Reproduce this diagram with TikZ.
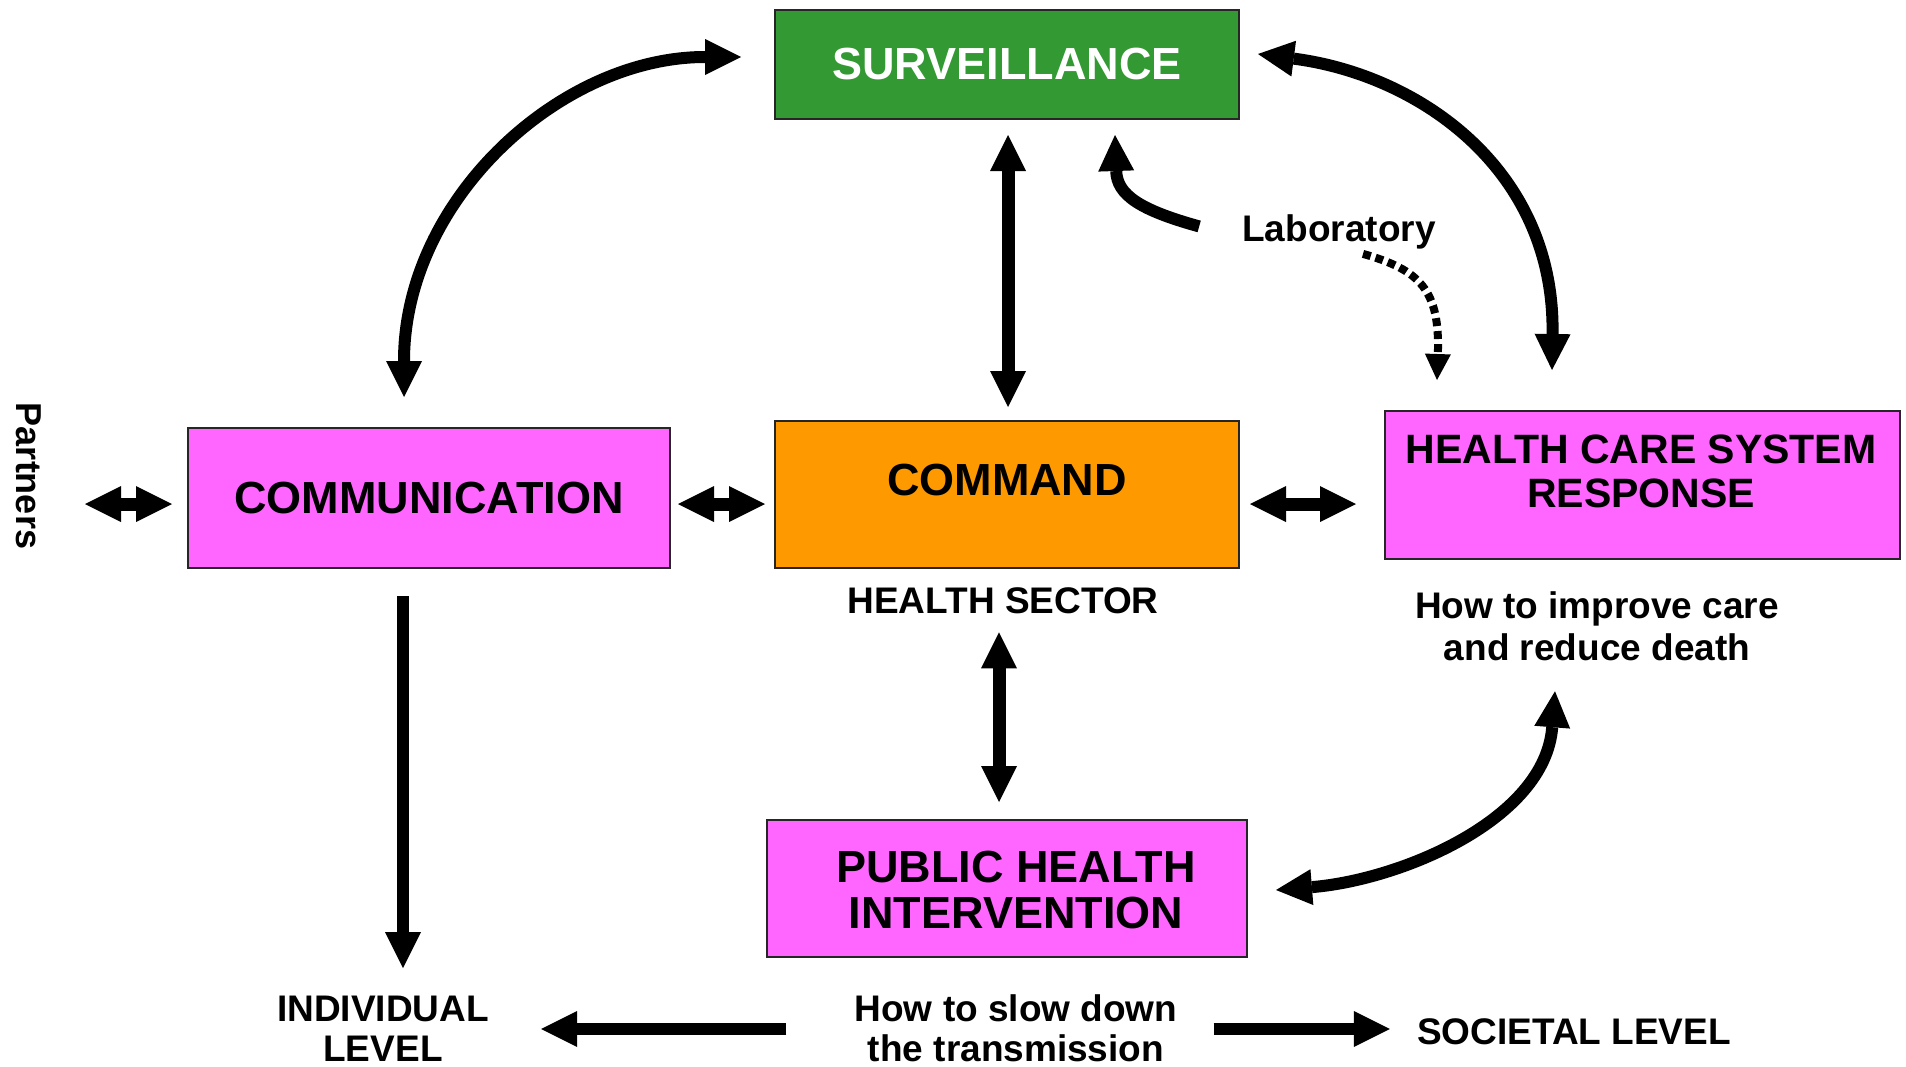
\documentclass[tikz,border=0pt]{standalone}
\usepackage{fontspec}
\setmainfont{Liberation Sans}
\usetikzlibrary{arrows.meta,calc}
\definecolor{survgreen}{HTML}{339933}
\definecolor{cmdorange}{HTML}{FF9900}
\definecolor{magbox}{HTML}{FF66FF}
\begin{document}
\begin{tikzpicture}[x=1pt,y=-1pt,
  box/.style={draw=black!85,line width=2pt,inner sep=0pt},
  big/.style={font=\bfseries\fontsize{45}{46}\selectfont,align=center,inner sep=0pt},
  mid/.style={font=\bfseries\fontsize{41}{44}\selectfont,align=center,inner sep=0pt},
  small/.style={font=\bfseries\fontsize{37}{40}\selectfont,align=center,inner sep=0pt},
  tipb/.tip={Triangle[width=36pt,length=36pt,line width=0pt]},
  tips/.tip={Triangle[width=26pt,length=26pt,line width=0pt]},
  arr/.style={line width=12pt,-tipb},
  dbl/.style={line width=13pt,tipb-tipb},
  dotarr/.style={line width=8pt,dash pattern=on 8pt off 5pt,-tips}]
\useasboundingbox[fill=white] (0,0) rectangle (1906,1066);

% boxes
\node[box,fill=survgreen,minimum width=464pt,minimum height=109pt,big,text=white] (surv) at (1007,64) {SURVEILLANCE};
\node[box,fill=cmdorange,minimum width=464pt,minimum height=147pt] (cmd) at (1007,494.5) {};
\node[big] (cmdlabel) at (1007,480) {COMMAND};
\node[box,fill=magbox,minimum width=482pt,minimum height=140pt,big] (comm) at (429,498) {COMMUNICATION};
\node[box,fill=magbox,minimum width=515pt,minimum height=148pt] (hcs) at (1642.5,485) {};
\node[mid] (hcslabel) at (1641,471) {HEALTH CARE SYSTEM\\RESPONSE};
\node[box,fill=magbox,minimum width=480pt,minimum height=137pt] (phi) at (1007,888.5) {};
\node[big] (philabel) at (1016,890) {PUBLIC HEALTH\\INTERVENTION};

% texts
\node[small,font=\bfseries\fontsize{36}{40}\selectfont,rotate=-90] (partners) at (29,476) {Partners};
\node[small,anchor=base] (lab) at (1339,241) {Laboratory};
\node[small] (hsector) at (1003,601) {HEALTH SECTOR};
\node[small,font=\bfseries\fontsize{37}{42}\selectfont] (improve) at (1597,626) {How to improve care\\and reduce death};
\node[small] (indiv) at (383,1029) {INDIVIDUAL\\LEVEL};
\node[small] (slow) at (1016,1028) {How to slow down\\the transmission};
\node[small] (societal) at (1574,1032) {SOCIETAL LEVEL};

% straight connectors
\draw[dbl] ($(partners)+(56,28)$) -- ($(comm.west)+(-15,6)$);
\draw[dbl] ($(comm.east)+(7,6)$) -- ($(cmd.west)+(-9,9.5)$);
\draw[dbl] ($(cmd.east)+(10,9.5)$) -- ($(hcs.west)+(-28,19)$);
\draw[dbl] ($(surv.south)+(1,15.5)$) -- ($(cmd.north)+(1,-13)$);
\draw[dbl] ($(hsector.south)+(-4,18)$) -- ($(phi.north)+(-8,-17)$);
\draw[arr] ($(comm.south)+(-26,27)$) -- ($(indiv.north)+(20,-28)$);
\draw[arr] ($(slow.west)+(-68,1)$) -- ($(indiv.east)+(52,0)$);
\draw[arr] ($(slow.east)+(36,1)$) -- ($(societal.west)+(-27,-3)$);

% curved connectors
\draw[line width=12pt,tipb-tipb] ($(comm.north)+(-25,-30)$) .. controls (404,200) and (560,57) .. ($(surv.west)+(-33,-7)$);
\draw[line width=12pt,tipb-tipb] ($(surv.east)+(18,-10)$) .. controls (1420,75) and (1555,170) .. ($(hcs.north)+(-90.5,-40)$);
\draw[arr] ($(lab.west)+(-43,-5)$) .. controls (1140,210) and (1117,195) .. ($(surv.south)+(108,15.5)$);
\draw[dotarr] ($(lab.south)+(24,5)$) .. controls (1420,270) and (1440,290) .. ($(hcs.north)+(-205.5,-30)$);
\draw[line width=12pt,tipb-tipb] ($(phi.east)+(28,1.5)$) .. controls (1400,880) and (1545,820) .. ($(improve.south)+(-42,30.5)$);
\end{tikzpicture}
\end{document}
